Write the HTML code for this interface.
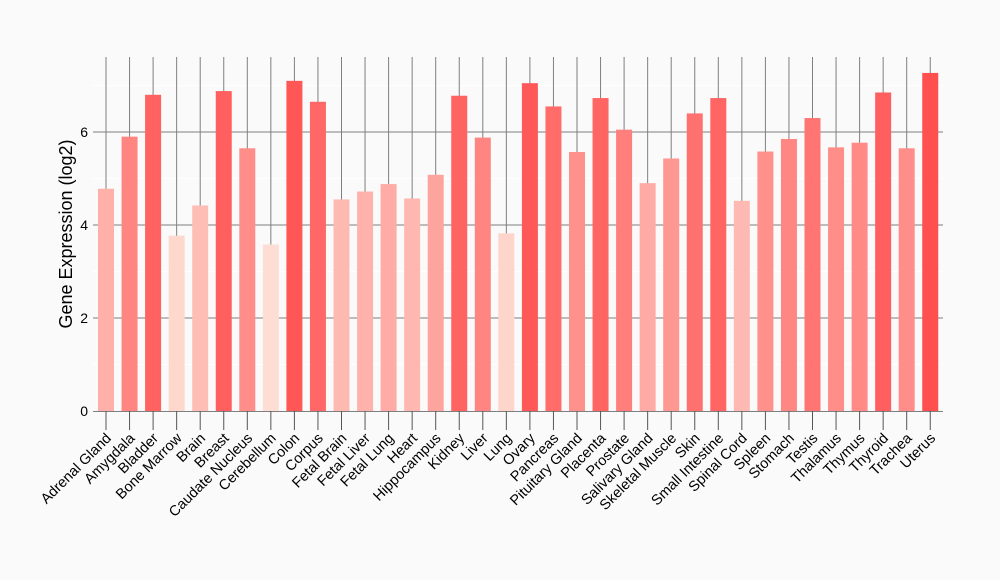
<!DOCTYPE html>
<html><head><meta charset="utf-8"><style>
html,body{margin:0;padding:0;background:#fafafa;}
svg{display:block;font-family:"Liberation Sans",sans-serif;}
</style></head><body>
<svg id="c" width="1000" height="580" xmlns="http://www.w3.org/2000/svg"></svg>
<script>
const names=["Adrenal Gland","Amygdala","Bladder","Bone Marrow","Brain","Breast","Caudate Nucleus","Cerebellum","Colon","Corpus","Fetal Brain","Fetal Liver","Fetal Lung","Heart","Hippocampus","Kidney","Liver","Lung","Ovary","Pancreas","Pituitary Gland","Placenta","Prostate","Salivary Gland","Skeletal Muscle","Skin","Small Intestine","Spinal Cord","Spleen","Stomach","Testis","Thalamus","Thymus","Thyroid","Trachea","Uterus"];
const vals=[4.78,5.9,6.8,3.77,4.42,6.88,5.65,3.58,7.1,6.65,4.55,4.72,4.88,4.57,5.08,6.78,5.88,3.82,7.05,6.55,5.57,6.73,6.05,4.9,5.43,6.4,6.73,4.52,5.58,5.85,6.3,5.67,5.77,6.85,5.65,7.27];
const y=v=>411-46.5*v, cx=i=>106+23.55*i;
let s='<rect width="1000" height="580" fill="#fafafa"/>';
for(const v of [1,3,5,7]) s+=`<line x1="93" x2="943" y1="${y(v)}" y2="${y(v)}" stroke="#fff" stroke-width="1"/>`;
for(const v of [2,4,6]) s+=`<line x1="93" x2="943" y1="${y(v)}" y2="${y(v)}" stroke="#7f7f7f" stroke-width="1"/>`;
names.forEach((n,i)=>{s+=`<line x1="${cx(i)}" x2="${cx(i)}" y1="57" y2="411" stroke="#7f7f7f" stroke-width="1"/>`;});
const lo=[254,222,212],hi=[255,80,80],mn=3.58,mx=7.27;
vals.forEach((v,i)=>{const t=(v-mn)/(mx-mn);const c=lo.map((a,k)=>Math.round(a+(hi[k]-a)*t));
s+=`<rect x="${cx(i)-8}" y="${y(v)}" width="16" height="${411-y(v)}" fill="rgb(${c})"/>`;});
s+=`<line x1="93" x2="943" y1="411.5" y2="411.5" stroke="#7f7f7f"/>`;
names.forEach((n,i)=>{const x=cx(i);s+=`<line x1="${x}" x2="${x}" y1="411" y2="430" stroke="#555"/>`;
s+=`<text x="${x+6}" y="439" font-size="14.5" text-anchor="end" transform="rotate(-45 ${x+6} 439)">${n}</text>`;});
for(const v of [0,2,4,6]) s+=`<text x="88" y="${y(v)+5}" font-size="14" text-anchor="end">${v}</text>`;
s+=`<text x="72" y="234" font-size="18" text-anchor="middle" transform="rotate(-90 72 234)">Gene Expression (log2)</text>`;
document.getElementById('c').innerHTML=s;
</script>
</body></html>
